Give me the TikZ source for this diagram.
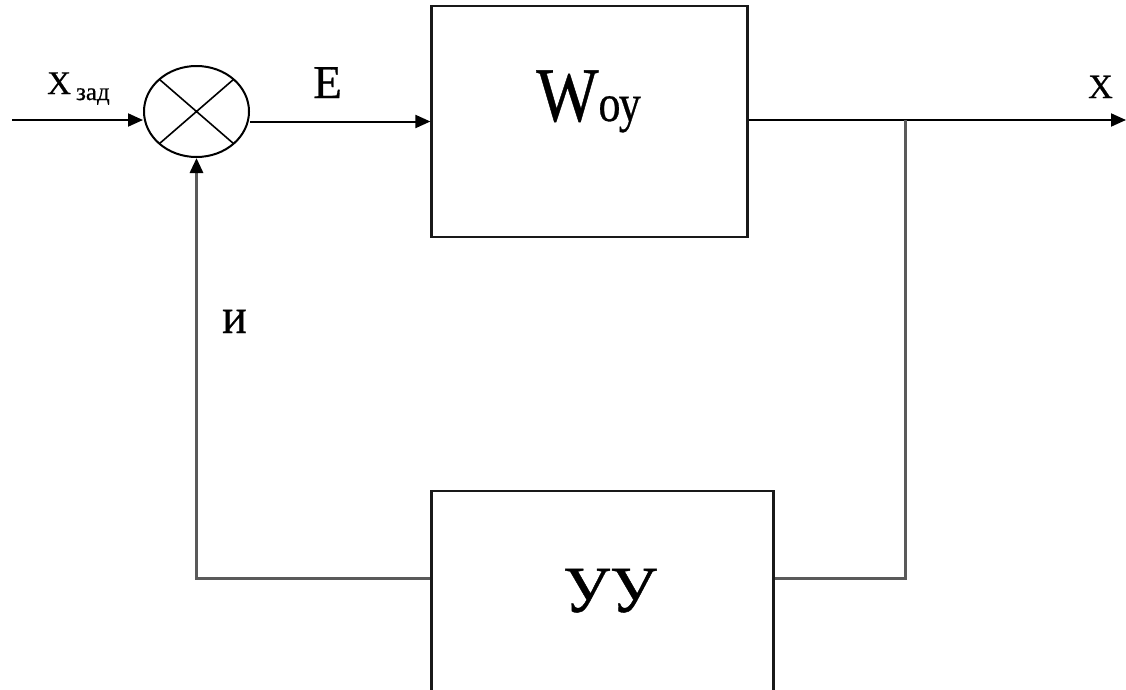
\documentclass[tikz,border=0pt]{standalone}
\usepackage{fontspec}
\setmainfont{Liberation Serif}
\newfontfamily\tnr[FakeBold=0.6]{Liberation Serif}
\usetikzlibrary{arrows.meta,shapes.geometric,calc}
\begin{document}
\begin{tikzpicture}[x=1pt,y=-1pt,
  wire/.style={line width=2pt,draw=black},
  tip/.style={-{Triangle[length=15pt,width=13pt,color=black]}},
  arr/.style={wire,tip},
  fb/.style={line width=3pt,draw={rgb,255:red,90;green,90;blue,90}},
  block/.style={draw=black!90,line width=2.2pt,rectangle,inner sep=0pt},
  lbl/.style={inner sep=0pt,anchor=base west,font=\tnr},
]
\clip (0,0) rectangle (1126,689);
\fill[white] (0,0) rectangle (1126,689);

% summing junction with a cross
\node[ellipse, draw, line width=2pt, minimum width=105pt, minimum height=91pt,
      inner sep=0pt,
      path picture={\draw[line width=1.6pt]
        (path picture bounding box.north west) -- (path picture bounding box.south east)
        (path picture bounding box.north east) -- (path picture bounding box.south west);}]
  (sum) at (196.5,111.5) {};

% blocks
\node[block, minimum width=316pt, minimum height=231pt] (woy) at (589.5,121.5) {};
\node[block, minimum width=342pt, minimum height=249pt] (uu) at (602.5,615.5) {};

% auxiliary points of the wiring
\coordinate (xin) at (12,120);
\coordinate (xout) at (1126,120);
\coordinate (tap) at (905,120);
\coordinate (tapturn) at (905,578);
\coordinate (fbturn) at (196.5,578);
\path ($(sum.east)+(0,10)$) coordinate (eout);

% forward path
\draw[arr] (xin) -- (xin -| sum.west);
\draw[arr] (eout) -- (eout -| woy.west);
\draw[arr] (woy.east |- xout) -- (xout);

% feedback path
\draw[fb] (tap) -- (tapturn) -- (uu.east |- tapturn);
\draw[fb,tip] (uu.west |- fbturn) -- (fbturn) -- (sum.south);

% labels
\node[lbl] (xzad) at (47,94) {\fontsize{33}{33}\selectfont X\hspace{5pt}\raisebox{-6pt}{\fontsize{25}{25}\selectfont зад}};
\node[lbl] (elbl) at (313,98) {\fontsize{47}{47}\selectfont E};
\node[lbl] (woylbl) at (536,121) {\scalebox{1}[1.17]{\fontsize{66}{66}\selectfont W}\scalebox{1}[1.2]{\fontsize{44}{44}\selectfont оу}};
\node[lbl] (xlbl) at (1088,98) {\fontsize{34}{34}\selectfont X};
\node[lbl] (ulbl) at (222,333) {\scalebox{1}[1.1]{\fontsize{46}{46}\selectfont и}};
\node[lbl] (uulbl) at (563,612) {\fontsize{66}{66}\selectfont УУ};
\end{tikzpicture}
\end{document}
